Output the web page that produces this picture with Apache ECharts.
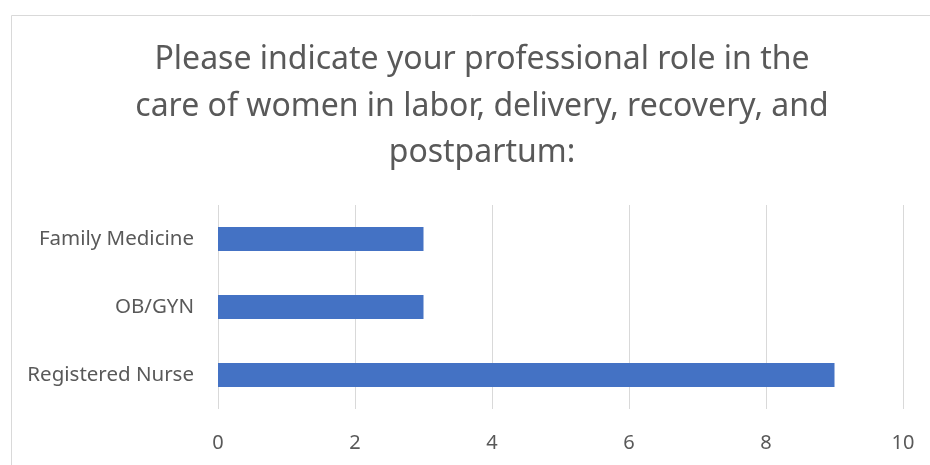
<!DOCTYPE html>
<html>
<head>
<meta charset="utf-8">
<script src="https://cdn.jsdelivr.net/npm/echarts@6/dist/echarts.min.js"></script>
<style>
  html, body { margin: 0; padding: 0; background: #fff; }
  #chart { width: 930px; height: 465px; }
</style>
</head>
<body>
<div id="chart"></div>
<script>
// data
const roles = ['Family Medicine', 'OB/GYN', 'Registered Nurse'];
const counts = [3, 3, 9];
const titleLines = [
  'Please indicate your professional role in the',
  'care of women in labor, delivery, recovery, and',
  'postpartum:'
];

const chart = echarts.init(document.getElementById('chart'));
const textColor = '#595959';
const font = '"Noto Sans", sans-serif';

chart.setOption({
  animation: false,
  graphic: [{
    type: 'rect',
    shape: { x: 11.5, y: 15.5, width: 940, height: 470 },
    style: { fill: 'none', stroke: '#d9d9d9', lineWidth: 1 },
    silent: true
  }],
  title: {
    text: titleLines.join('\n'),
    left: 477,
    textAlign: 'center',
    top: 32,
    textStyle: {
      color: textColor,
      fontFamily: font,
      fontSize: 32,
      fontWeight: 'normal',
      lineHeight: 46.5
    }
  },
  grid: { left: 218, right: 27, top: 205, bottom: 56 },
  xAxis: {
    type: 'value',
    min: 0,
    max: 10,
    interval: 2,
    axisLine: { show: false },
    axisTick: { show: false },
    axisLabel: { color: textColor, fontFamily: font, fontSize: 20, margin: 24 },
    splitLine: { lineStyle: { color: '#d9d9d9', width: 1 } }
  },
  yAxis: {
    type: 'category',
    data: roles,
    inverse: true,
    axisLine: { show: false },
    axisTick: { show: false },
    axisLabel: { color: textColor, fontFamily: font, fontSize: 20.5, margin: 24 }
  },
  series: [{
    type: 'bar',
    data: counts,
    barWidth: 24,
    itemStyle: { color: '#4472C4' }
  }]
});
</script>
</body>
</html>
